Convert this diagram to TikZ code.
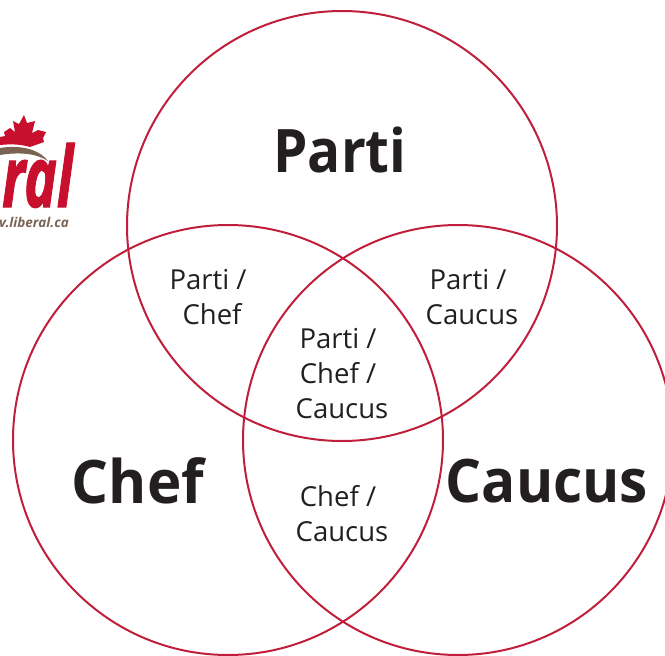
\documentclass[tikz,border=0pt]{standalone}
\usepackage{fontspec}
\setmainfont{Open Sans}
\newfontfamily\logofont[FakeBold=1.5]{Open Sans}
\definecolor{libred}{HTML}{C8102E}
\definecolor{circred}{HTML}{C01F3C}
\definecolor{libbrown}{HTML}{7A6353}
\definecolor{txt}{HTML}{231F20}
\tikzset{
  venn/.style={circle,draw=circred,line width=2pt,minimum size=430pt,inner sep=0pt,outer sep=0pt},
  bigl/.style={text=txt,inner sep=0pt},
  smalll/.style={font=\fontsize{27.5}{35}\selectfont,text=txt,align=center,inner sep=0pt}
}
\newcommand{\bigtext}[2]{\scalebox{#1}[1]{\fontsize{60}{60}\selectfont\bfseries #2}}
\newcommand{\slashline}[1]{#1\kern8pt\relax}
\begin{document}
\begin{tikzpicture}[x=1pt,y=-1pt]
\useasboundingbox (0,0) rectangle (665,656);
\clip (0,0) rectangle (665,656);
% logo
\fill[libred] (0,145) -- (0,137) -- (5,136) -- (4,132) -- (10,128) -- (15,132) -- (13,121) -- (19,124) -- (24,115)
  -- (27,123) -- (35,121) -- (32,133) -- (38,130) -- (46,132) -- (43,138) -- (44,142) -- (30,147)
  .. controls (20,144) and (10,144) .. (0,145) -- cycle;
\fill[libbrown] (0,148) .. controls (18,145) and (38,148) .. (48,161) .. controls (36,153) and (18,152) .. (0,155) -- cycle;
\node[anchor=base west,inner sep=0pt,text=libred] (wordmark) at (2,207)
  {\resizebox{71pt}{64pt}{\logofont\bfseries\itshape ral}};
\node[anchor=base east,inner sep=0pt,text=libbrown,font=\fontsize{13.5}{13.5}\selectfont\bfseries\itshape] (url) at (69,227) {v.liberal.ca};
% circles
\node[venn] (parti) at (342,226) {};
\node[venn] (chef) at (228,440) {};
\node[venn] (caucus) at (458,440) {};
% labels
\node[bigl] (lp) at (340,150) {\bigtext{0.915}{Parti}};
\node[bigl] (lc) at (138,481) {\bigtext{0.97}{Chef}};
\node[bigl] (lca) at (547,481) {\bigtext{0.945}{Caucus}};
\node[smalll] (pc) at (212,297) {\slashline{Parti /}\\Chef};
\node[smalll] (pca) at (472,297) {\slashline{Parti /}\\Caucus};
\node[smalll] (pcc) at (342,374) {\slashline{Parti /}\\\slashline{Chef /}\\Caucus};
\node[smalll] (cc) at (342,514) {\slashline{Chef /}\\Caucus};
\end{tikzpicture}
\end{document}
